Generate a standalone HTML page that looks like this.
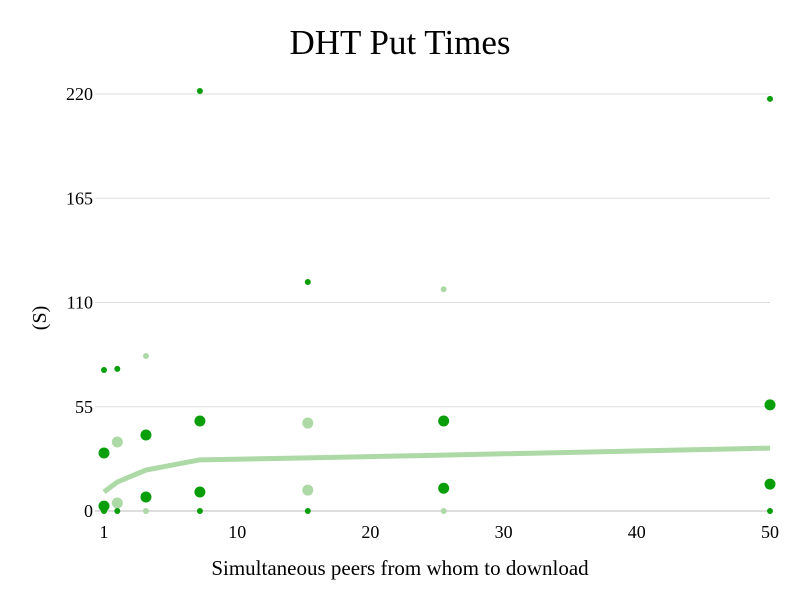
<!DOCTYPE html>
<html><head><meta charset="utf-8"><style>
body{margin:0;background:#fff;}
svg text{font-family:"Liberation Serif",serif;fill:#000;}
</style></head><body>
<svg id="chart" width="800" height="600" xmlns="http://www.w3.org/2000/svg">
<text x="400" y="54" text-anchor="middle" font-size="35">DHT Put Times</text>
<text x="400" y="575" text-anchor="middle" font-size="21">Simultaneous peers from whom to download</text>
<text transform="translate(46,318) rotate(-90)" text-anchor="middle" font-size="20">(S)</text>
<g id="grid"></g><g id="line"></g><g id="pts"></g>
</svg>
<script>
const xTickVals=[0,10,20,30,40,50];
const xTickLabels=["1","10","20","30","40","50"];
const yTicks=[0,55,110,165,220];
const xs=[0,1,3.15,7.2,15.3,25.5,50];
const darkBig=[[0,30.6],[0,2.6],[3.15,40.1],[3.15,7.4],[7.2,47.5],[7.2,10],[25.5,47.5],[25.5,12],[50,56],[50,14.2]];
const lightBig=[[1,36.4],[1,4.2],[15.3,46.4],[15.3,11]];
const darkSmall=[[0,74.4],[0,0],[1,75],[1,0],[7.2,221.6],[7.2,0],[15.3,120.8],[15.3,0],[50,217.4],[50,0]];
const lightSmall=[[3.15,81.8],[3.15,0],[25.5,117],[25.5,0]];
const trend=[10,15.3,21.6,27,28,29.5,33.2];
const NS="http://www.w3.org/2000/svg";
const X=v=>104+v*(666/50), Y=v=>511-v*(417/220);
function mk(t,a,p){const e=document.createElementNS(NS,t);for(const k in a)e.setAttribute(k,a[k]);p.appendChild(e);return e;}
const g=document.getElementById('grid');
yTicks.forEach(v=>{
 const l=mk('line',{x1:95,x2:770,y1:Y(v),y2:Y(v),stroke:v===0?'#bbb':'#ddd','stroke-width':1},g);
 
 
 const t=mk('text',{x:93,y:Y(v)+6,'text-anchor':'end','font-size':18},g);t.textContent=v;
 
 
});
xTickVals.forEach((v,i)=>{
 const t=mk('text',{x:X(v),y:538,'text-anchor':'middle','font-size':18},g);t.textContent=xTickLabels[i];
 
 
});
const lp=mk('polyline',{points:xs.map((x,i)=>X(x)+','+Y(trend[i])).join(' '),fill:'none',stroke:'#acd9a5','stroke-width':5},document.getElementById('line'));


const pg=document.getElementById('pts');
function pts(arr,r,c,name){arr.forEach(([x,y])=>{const e=mk('circle',{cx:X(x),cy:Y(y),r:r,fill:c},pg);
 
 });}
pts(lightSmall,3,'#acd9a5','light-point');
pts(lightBig,5.5,'#acd9a5','light-point');
pts(darkSmall,3,'#0a9e0a','dark-point');
pts(darkBig,5.5,'#0a9e0a','dark-point');
</script>
</body></html>
